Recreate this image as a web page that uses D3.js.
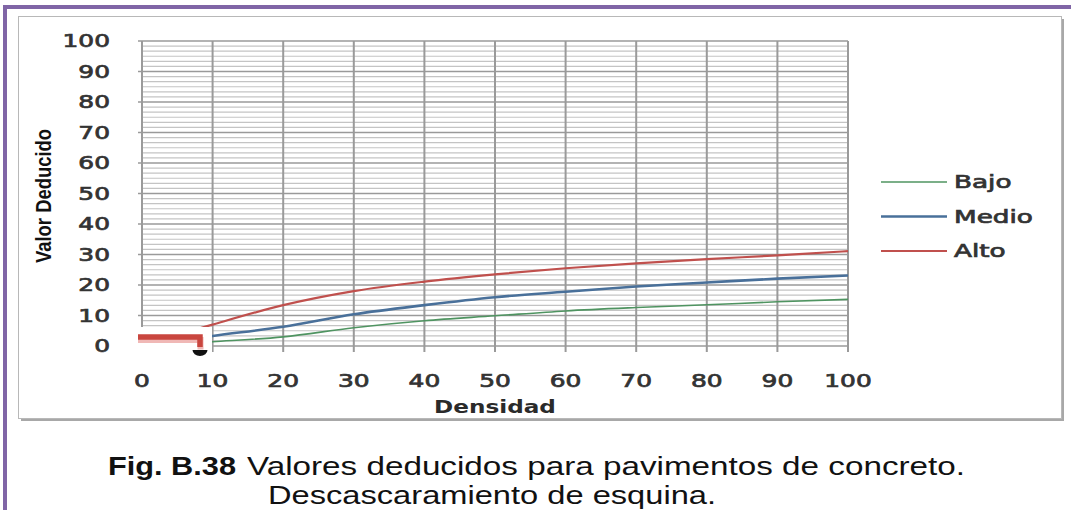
<!DOCTYPE html>
<html>
<head>
<meta charset="utf-8">
<script src="https://cdn.jsdelivr.net/npm/d3@7"></script>
<style>
  html, body { margin: 0; padding: 0; background: #fff; }
  svg { display: block; }
</style>
</head>
<body>
<svg id="fig" width="1071" height="510"></svg>
<script>
// Densidad (%) on the x axis
const densidad = [0, 10, 20, 30, 40, 50, 60, 70, 80, 90, 100];
// Valor deducido for each severity level
const bajo  = [0, 1.4, 3.0, 6.0, 8.3, 9.9, 11.5, 12.6, 13.5, 14.5, 15.3];
const medio = [0, 3.3, 6.3, 10.4, 13.4, 16.0, 17.8, 19.5, 20.8, 22.1, 23.1];
const alto  = [0, 7.0, 13.4, 18.0, 21.1, 23.5, 25.5, 27.1, 28.5, 29.7, 31.1];
const seriesNames = ["Bajo", "Medio", "Alto"];
const xTicks = [0, 10, 20, 30, 40, 50, 60, 70, 80, 90, 100];
const yTicks = [0, 10, 20, 30, 40, 50, 60, 70, 80, 90, 100];

const colors = { Bajo: "#4f9461", Medio: "#49709a", Alto: "#c0504d" };
const widths = { Bajo: 1.6, Medio: 2.6, Alto: 2.2 };
const seriesValues = { Bajo: bajo, Medio: medio, Alto: alto };

const svg = d3.select("#fig");

// widen glyphs horizontally
function stretch(sel, k) {
  sel.each(function () {
    const w = this.getComputedTextLength();
    this.setAttribute("textLength", w * k);
    this.setAttribute("lengthAdjust", "spacingAndGlyphs");
  });
}

// outer page frame
svg.append("rect").attr("x", 3).attr("y", 5).attr("width", 1068).attr("height", 4).attr("fill", "#8065a6");
svg.append("rect").attr("x", 3).attr("y", 5).attr("width", 4).attr("height", 505).attr("fill", "#8065a6");

// chart box with shadow
svg.append("rect").attr("x", 21).attr("y", 19).attr("width", 1043).attr("height", 402).attr("fill", "#a8a8a8");
svg.append("rect").attr("x", 18.5).attr("y", 16.5).attr("width", 1043).attr("height", 402)
  .attr("fill", "#fff").attr("stroke", "#b8b8b8").attr("stroke-width", 1);

const x = d3.scaleLinear().domain([0, 100]).range([142, 848]);
const y = d3.scaleLinear().domain([0, 100]).range([346, 41]);

const g = svg.append("g");

// minor horizontal grid (six parts per major step)
const minor = d3.range(0, 100.001, 10 / 6).filter(v => Math.abs(v / 10 - Math.round(v / 10)) > 1e-6);
g.append("g").selectAll("line").data(minor).join("line")
  .attr("x1", x(0)).attr("x2", x(100))
  .attr("y1", d => y(d)).attr("y2", d => y(d))
  .attr("stroke", "#c4c4c4").attr("stroke-width", 1.2);

// major horizontal grid
g.append("g").selectAll("line").data(yTicks).join("line")
  .attr("x1", x(0) - 4).attr("x2", x(100))
  .attr("y1", d => y(d)).attr("y2", d => y(d))
  .attr("stroke", "#9a9a9a").attr("stroke-width", 1.6);

// major vertical grid with tick marks below the axis
g.append("g").selectAll("line").data(xTicks).join("line")
  .attr("x1", d => x(d)).attr("x2", d => x(d))
  .attr("y1", y(100)).attr("y2", y(0) + 6)
  .attr("stroke", "#9a9a9a").attr("stroke-width", 2);

// series
const line = d3.line()
  .x((d, i) => x(densidad[i]))
  .y(d => y(d))
  .curve(d3.curveMonotoneX);

seriesNames.forEach(name => {
  g.append("path")
    .attr("d", line(seriesValues[name]))
    .attr("fill", "none")
    .attr("stroke", colors[name])
    .attr("stroke-width", widths[name])
    .attr("stroke-linejoin", "round");
});

// marker note in the corner of the plot
const note = svg.append("g");
note.append("rect").attr("x", 137).attr("y", 327).attr("width", 75).attr("height", 26).attr("fill", "#fff");
note.append("path")
  .attr("d", "M138,338.5 H200.5 V348")
  .attr("fill", "none").attr("stroke", "#f0b8b6").attr("stroke-width", 6)
  .attr("transform", "translate(0,1.5)");
note.append("path")
  .attr("d", "M138,337 H200 V347")
  .attr("fill", "none").attr("stroke", "#c9463f").attr("stroke-width", 5.5);
note.append("path")
  .attr("d", "M192.5,350 A7.5,6 0 0 0 207.5,350 Z")
  .attr("fill", "#111");

// tick labels
const tickFont = "'DejaVu Sans', Verdana, sans-serif";
const yl = svg.append("g").selectAll("text").data(yTicks).join("text")
  .attr("x", 110).attr("y", d => y(d)).attr("dy", "0.36em")
  .attr("text-anchor", "end")
  .attr("font-family", tickFont).attr("font-size", 17.5)
  .attr("fill", "#333").attr("stroke", "#333").attr("stroke-width", 0.7)
  .text(d => d);
stretch(yl, 1.42);

const xl = svg.append("g").selectAll("text").data(xTicks).join("text")
  .attr("x", d => x(d)).attr("y", 387)
  .attr("text-anchor", "middle")
  .attr("font-family", tickFont).attr("font-size", 17.5)
  .attr("fill", "#333").attr("stroke", "#333").attr("stroke-width", 0.7)
  .text(d => d);
stretch(xl, 1.42);

// axis titles
const xt = svg.append("text")
  .attr("x", 495).attr("y", 413).attr("text-anchor", "middle")
  .attr("font-family", tickFont).attr("font-size", 17).attr("font-weight", "bold")
  .attr("fill", "#2a2a2a").text("Densidad");
stretch(xt, 1.36);

svg.append("text")
  .attr("transform", "translate(51,196) rotate(-90)")
  .attr("text-anchor", "middle")
  .attr("font-family", "'Liberation Sans', Arial, sans-serif").attr("font-size", 22).attr("font-weight", "bold")
  .attr("fill", "#111").attr("textLength", 134).attr("lengthAdjust", "spacingAndGlyphs")
  .text("Valor Deducido");

// legend
const leg = svg.append("g").selectAll("g").data(seriesNames).join("g")
  .attr("transform", (d, i) => `translate(0,${182 + i * 34.5})`);
leg.append("line")
  .attr("x1", 881).attr("x2", 947)
  .attr("stroke", d => colors[d]).attr("stroke-width", d => widths[d]);
const lt = leg.append("text")
  .attr("x", 954).attr("dy", "0.36em")
  .attr("font-family", tickFont).attr("font-size", 17.5)
  .attr("fill", "#333").attr("stroke", "#333").attr("stroke-width", 0.7)
  .text(d => d);
stretch(lt, 1.5);

// caption
const capFont = "'Liberation Sans', Arial, sans-serif";
svg.append("text").attr("x", 108).attr("y", 475)
  .attr("font-family", capFont).attr("font-size", 25).attr("font-weight", "bold")
  .attr("fill", "#111").attr("textLength", 128).attr("lengthAdjust", "spacingAndGlyphs")
  .text("Fig. B.38");
svg.append("text").attr("x", 247).attr("y", 475)
  .attr("font-family", capFont).attr("font-size", 25)
  .attr("fill", "#111").attr("textLength", 718).attr("lengthAdjust", "spacingAndGlyphs")
  .text("Valores deducidos para pavimentos de concreto.");
svg.append("text").attr("x", 268).attr("y", 504)
  .attr("font-family", capFont).attr("font-size", 25)
  .attr("fill", "#111").attr("textLength", 448).attr("lengthAdjust", "spacingAndGlyphs")
  .text("Descascaramiento de esquina.");
</script>
</body>
</html>
